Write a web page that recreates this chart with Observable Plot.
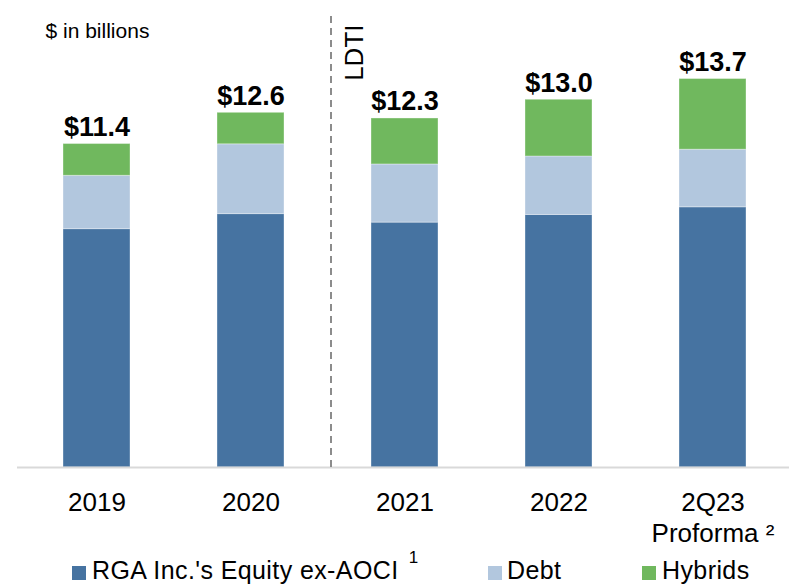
<!DOCTYPE html>
<html>
<head>
<meta charset="utf-8">
<script src="https://cdn.jsdelivr.net/npm/d3@7"></script>
<script src="https://cdn.jsdelivr.net/npm/@observablehq/plot@0.6"></script>
<style>
  html, body { margin: 0; padding: 0; background: #fff; }
  body { width: 789px; height: 586px; overflow: hidden; font-family: "Liberation Sans", Arial, sans-serif; }
  #legend { position: relative; width: 789px; height: 38px; }
  .sw { position: absolute; width: 14px; height: 14px; top: 18px; }
  .lab { position: absolute; top: 10px; font-size: 25px; line-height: 25px; letter-spacing: 0.4px; white-space: nowrap; color: #000; }
  .lab .note { font-size: 17px; position: absolute; right: -20px; top: -9px; line-height: 17px; }
</style>
</head>
<body>
<div id="chart"></div>
<div id="legend"></div>
<script>
const years = ["2019", "2020", "2021", "2022", "2Q23\nProforma ²"];
const seriesNames = ["RGA Inc.'s Equity ex-AOCI", "Debt", "Hybrids"];
const seriesNotes = ["1", "", ""];
const colors = ["#4673a1", "#b2c7de", "#70b85e"];
const equity = [8.40, 8.93, 8.63, 8.90, 9.17];
const debt = [1.88, 2.46, 2.05, 2.06, 2.03];
const hybrids = [1.12, 1.11, 1.62, 2.00, 2.49];
const totals = ["$11.4", "$12.6", "$12.3", "$13.0", "$13.7"];
const unitNote = "$ in billions";
const dividerLabel = "LDTI";
const dividerBefore = "2021";

const seriesValues = [equity, debt, hybrids];
const rows = [];
seriesNames.forEach((s, i) => {
  years.forEach((y, j) => rows.push({year: y, series: s, value: seriesValues[i][j]}));
});
const tops = years.map((y, j) => ({year: y, total: equity[j] + debt[j] + hybrids[j], label: totals[j]}));

const chart = Plot.plot({
  width: 789,
  height: 548,
  marginTop: 13,
  marginBottom: 81,
  marginLeft: 17,
  marginRight: 0,
  style: {fontFamily: "'Liberation Sans', Arial, sans-serif", overflow: "visible", background: "#fff"},
  x: {domain: years, range: [17, 791], paddingInner: 0.568, paddingOuter: 0.284, axis: null, label: null},
  y: {domain: [0, 16], axis: null},
  color: {domain: seriesNames, range: colors},
  marks: [
    Plot.barY(rows, Plot.stackY({x: "year", y: "value", fill: "series", order: seriesNames,
      stroke: "#ffffff", strokeOpacity: 0.35, strokeWidth: 1})),
    Plot.ruleY([0], {stroke: "#d9d9d9", strokeWidth: 2}),
    Plot.ruleX([dividerBefore], {y1: 0, y2: 16, dx: -74, stroke: "#8c8c8c", strokeWidth: 2, strokeDasharray: "7,5"}),
    Plot.text(tops, {x: "year", y: "total", text: "label", lineAnchor: "bottom", dy: -8,
      fontSize: 27, fontWeight: "bold", fill: "#000"}),
    Plot.text([dividerLabel], {x: () => dividerBefore, frameAnchor: "top", text: d => d, rotate: -90,
      textAnchor: "end", lineAnchor: "middle", dx: -50, dy: 11, fontSize: 26, fill: "#000"}),
    Plot.text([unitNote], {frameAnchor: "top-left", text: d => d, textAnchor: "start", lineAnchor: "bottom",
      dx: 28, dy: 24, fontSize: 21, fill: "#000"}),
    Plot.axisX({fontSize: 26, tickSize: 0, tickPadding: 21, lineHeight: 1.2, fill: "#000", label: null})
  ]
});
document.getElementById("chart").appendChild(chart);

const legendPos = [[72, 92], [488, 507], [642, 662]];
const legend = document.getElementById("legend");
seriesNames.forEach((s, i) => {
  const sw = document.createElement("div");
  sw.className = "sw";
  sw.style.left = legendPos[i][0] + "px";
  sw.style.background = colors[i];
  legend.appendChild(sw);
  const lab = document.createElement("div");
  lab.className = "lab";
  lab.style.left = legendPos[i][1] + "px";
  lab.textContent = s;
  if (seriesNotes[i]) {
    const sup = document.createElement("span");
    sup.className = "note";
    sup.textContent = seriesNotes[i];
    lab.appendChild(sup);
  }
  legend.appendChild(lab);
});
</script>
</body>
</html>
